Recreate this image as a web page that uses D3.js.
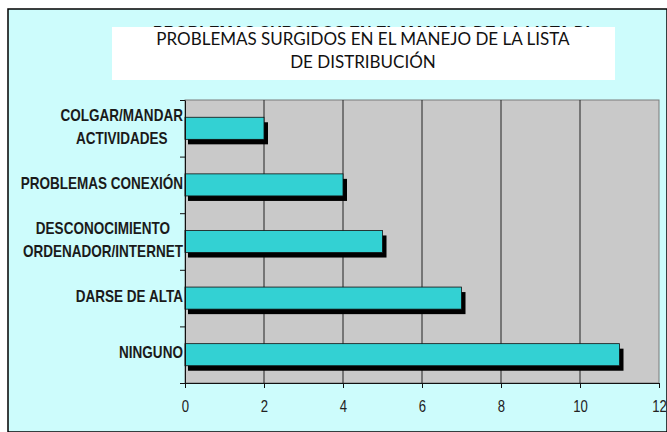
<!DOCTYPE html>
<html>
<head>
<meta charset="utf-8">
<script src="https://cdn.jsdelivr.net/npm/d3@7"></script>
<style>
  body { margin: 0; background: #fff; }
  svg { display: block; }
</style>
</head>
<body>
<div id="chart"></div>
<script>
// datos
var categorias = [
  ["COLGAR/MANDAR", "ACTIVIDADES"],
  ["PROBLEMAS CONEXIÓN"],
  ["DESCONOCIMIENTO", "ORDENADOR/INTERNET"],
  ["DARSE DE ALTA"],
  ["NINGUNO"]
]
var valores = [2, 4, 5, 7, 11]
var ticksX = [0, 2, 4, 6, 8, 10, 12]
var titulo = ["PROBLEMAS SURGIDOS EN EL MANEJO DE LA LISTA", "DE DISTRIBUCIÓN"]
var tituloFantasma = "PROBLEMAS SURGIDOS EN EL MANEJO DE LA LISTA DI"

var width = 667, height = 432
var plot = { left: 185, right: 659, top: 100, bottom: 383 }
var sans = '"Liberation Sans", Arial, sans-serif'
var estrecho = 0.82 // imitar Arial Narrow

var svg = d3.select("#chart").append("svg")
  .attr("width", width)
  .attr("height", height)

// fondo y marco
svg.append("rect").attr("x", 8).attr("y", 9).attr("width", width - 8).attr("height", height - 9)
  .attr("fill", "#cdfcfc").attr("stroke", "#000").attr("stroke-width", 1.5)

// titulo "fantasma" que queda tapado por la caja blanca
svg.append("text")
  .attr("x", 153).attr("y", 39.5)
  .attr("textLength", 437).attr("lengthAdjust", "spacingAndGlyphs")
  .style("font-family", sans).style("font-weight", "bold").style("font-size", "20px")
  .attr("fill", "#111")
  .text(tituloFantasma)

svg.append("rect").attr("x", 112).attr("y", 27).attr("width", 503).attr("height", 53).attr("fill", "#fff")

svg.selectAll(".titulo").data(titulo).enter().append("text")
  .attr("class", "titulo")
  .attr("x", 363)
  .attr("y", function(d, i) { return 45 + i * 23 })
  .attr("text-anchor", "middle")
  .style("font-family", "Lato, sans-serif").style("font-size", "17px")
  .attr("fill", "#111")
  .text(function(d) { return d })

var x = d3.scaleLinear().domain([0, 12]).range([plot.left, plot.right])
var y = d3.scaleBand().domain(d3.range(categorias.length)).range([plot.top, plot.bottom])
var yLin = d3.scaleLinear().domain([0, categorias.length]).range([plot.top, plot.bottom])

var g = svg.append("g")

g.append("rect")
  .attr("x", plot.left).attr("y", plot.top)
  .attr("width", plot.right - plot.left).attr("height", plot.bottom - plot.top)
  .attr("fill", "#c9c9c9").attr("stroke", "#7a7a7a")

g.selectAll(".grid").data(ticksX.slice(1, -1)).enter().append("line")
  .attr("class", "grid")
  .attr("x1", function(d) { return x(d) }).attr("x2", function(d) { return x(d) })
  .attr("y1", plot.top).attr("y2", plot.bottom)
  .attr("stroke", "#222").attr("stroke-width", 1)

var barH = y.bandwidth() * 0.39

// sombras
g.selectAll(".sombra").data(valores).enter().append("rect")
  .attr("class", "sombra")
  .attr("x", x(0) + 3)
  .attr("y", function(d, i) { return y(i) + (y.bandwidth() - barH) / 2 + 5 })
  .attr("width", function(d) { return x(d) - x(0) + 1 })
  .attr("height", barH)
  .attr("fill", "#000")

g.selectAll(".bar").data(valores).enter().append("rect")
  .attr("class", "bar")
  .attr("x", x(0))
  .attr("y", function(d, i) { return y(i) + (y.bandwidth() - barH) / 2 })
  .attr("width", function(d) { return x(d) - x(0) })
  .attr("height", barH)
  .attr("fill", "#33d1d3").attr("stroke", "#111").attr("stroke-width", 0.8)

// eje x
var ejeX = g.append("g")
  .attr("transform", "translate(0," + plot.bottom + ")")
  .call(d3.axisBottom(x).tickValues(ticksX).tickSize(5).tickSizeOuter(0).tickPadding(13))
ejeX.select(".domain").attr("stroke", "#111")
ejeX.selectAll("line").attr("stroke", "#111")
ejeX.selectAll("text")
  .style("font-family", sans).style("font-size", "16px").attr("fill", "#222")
  .attr("transform", "scale(" + estrecho + ",1)")

// eje y
var ejeY = g.append("g")
  .attr("transform", "translate(" + plot.left + ",0)")
  .call(d3.axisLeft(yLin).tickValues(d3.range(categorias.length + 1)).tickFormat("").tickSize(5).tickSizeOuter(0))
ejeY.select(".domain").attr("stroke", "#111")
ejeY.selectAll("line").attr("stroke", "#111")

// etiquetas de categorias: bloque centrado, alineado a la derecha del eje
var etiquetas = g.selectAll(".cat").data(categorias).enter().append("g")
  .attr("class", "cat")

etiquetas.each(function(lineas, i) {
  var grupo = d3.select(this)
  var t = grupo.append("text")
    .style("font-family", sans).style("font-weight", "bold").style("font-size", "16.5px")
    .attr("fill", "#1a1a1a")
    .attr("text-anchor", "middle")
  lineas.forEach(function(l, j) {
    t.append("tspan")
      .attr("x", 0)
      .attr("y", (j - (lineas.length - 1) / 2) * 23)
      .attr("dy", "0.35em")
      .text(l)
  })
  var w = t.node().getBBox().width * estrecho
  var cy = y(i) + y.bandwidth() / 2 - 2
  grupo.attr("transform", "translate(" + (183 - w / 2) + "," + cy + ") scale(" + estrecho + ",1)")
})
</script>
</body>
</html>
